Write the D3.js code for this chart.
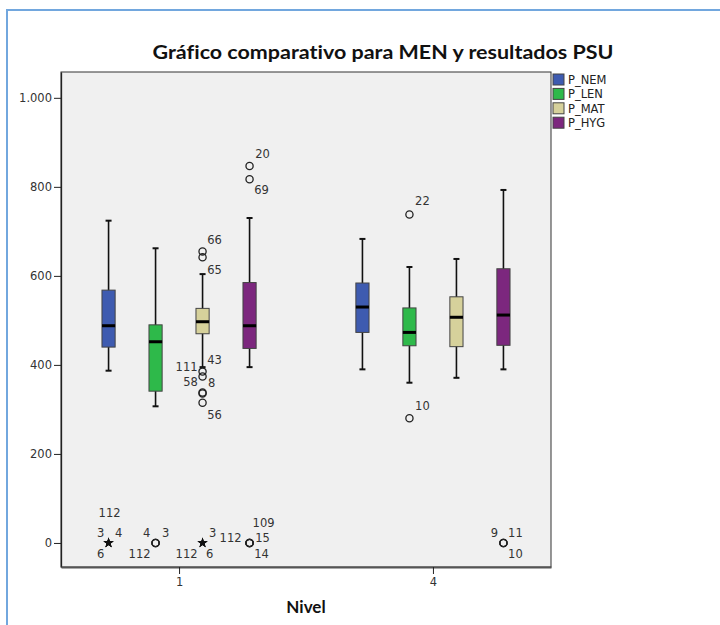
<!DOCTYPE html>
<html>
<head>
<meta charset="utf-8">
<script src="https://cdn.jsdelivr.net/npm/d3@7"></script>
<style>
  html, body { margin: 0; padding: 0; background: #fff; }
  svg { display: block; }
  text { font-variant-ligatures: none; }
</style>
</head>
<body>
<svg id="chart" width="720" height="625"></svg>
<script>
// datos
const niveles = ['1', '4'];
const series = ['P_NEM', 'P_LEN', 'P_MAT', 'P_HYG'];
const colores = ['#3e5bb0', '#2eb94a', '#d6d19b', '#7c277e'];

// [nivel][serie]
const bigoteBajo = [[387, 307, 395, 395], [390, 360, 371, 390]];
const cuartil1 = [[440, 341, 470, 437], [473, 443, 441, 444]];
const mediana = [[488, 452, 497, 488], [530, 473, 507, 512]];
const cuartil3 = [[568, 490, 527, 585], [584, 528, 553, 616]];
const bigoteAlto = [[724, 662, 604, 730], [683, 620, 638, 793]];

// valores atipicos (o) y extremos (*)
const atipCaso = [112, 3, 4, 6, 4, 3, 112, 3, 112, 6, 66, 65, 111, 43, 58, 8, 56, 20, 69, 109, 15, 112, 14, 22, 10, 9, 11, 10];
const atipNivel = ['1', '1', '1', '1', '1', '1', '1', '1', '1', '1', '1', '1', '1', '1', '1', '1', '1', '1', '1', '1', '1', '1', '1', '4', '4', '4', '4', '4'];
const atipSerie = ['P_NEM', 'P_NEM', 'P_NEM', 'P_NEM', 'P_LEN', 'P_LEN', 'P_LEN', 'P_MAT', 'P_MAT', 'P_MAT', 'P_MAT', 'P_MAT', 'P_MAT', 'P_MAT', 'P_MAT', 'P_MAT', 'P_MAT', 'P_HYG', 'P_HYG', 'P_HYG', 'P_HYG', 'P_HYG', 'P_HYG', 'P_LEN', 'P_LEN', 'P_HYG', 'P_HYG', 'P_HYG'];
const atipValor = [0, 0, 0, 0, 0, 0, 0, 0, 0, 0, 655, 642, 385, 374, 338, 336, 315, 847, 817, 0, 0, 0, 0, 738, 280, 0, 0, 0];
const atipTipo = ['*', '*', '*', '*', 'o', 'o', 'o', '*', '*', '*', 'o', 'o', 'o', 'o', 'o', 'o', 'o', 'o', 'o', 'o', 'o', 'o', 'o', 'o', 'o', 'o', 'o', 'o'];

const yTicks = [0, 200, 400, 600, 800, 1000];

// posicion de las etiquetas respecto del punto (solo layout)
const etiquetaDesp = [
  [1, -30], [-8, -10], [10, -10], [-8, 11],
  [-9, -10], [10, -10], [-16, 11],
  [10, -10], [-16, 11], [7, 11],
  [12, -11], [12, 13], [-16, -5], [12, -16], [-12, -11], [9, -10], [12, 12],
  [13, -12], [12, 11], [14, -20], [13, -5], [-19, -5], [12, 11],
  [13, -13], [13, -12], [-9, -10], [12, -10], [12, 11]
];

const svg = d3.select('#chart');

// marco azul exterior
svg.append('rect')
  .attr('x', 7).attr('y', 10).attr('width', 800).attr('height', 700)
  .attr('fill', 'none').attr('stroke', '#72a7de').attr('stroke-width', 2);

const margin = { top: 72, left: 61, right: 551, bottom: 567 };

const y = d3.scaleLinear().domain([-54, 1058]).range([margin.bottom, margin.top]);
const x = d3.scalePoint().domain(niveles).range([margin.left, margin.right]).padding(0.465);
const xs = d3.scaleBand().domain(series).range([-94, 94]).paddingInner(0.72).paddingOuter(0.36);
const color = d3.scaleOrdinal().domain(series).range(colores);

const fmt = d3.formatLocale({ decimal: ',', thousands: '.', grouping: [3], currency: ['', ''] }).format(',d');

// fondo del area
svg.append('rect')
  .attr('x', margin.left).attr('y', margin.top)
  .attr('width', margin.right - margin.left).attr('height', margin.bottom - margin.top)
  .attr('fill', '#f0f0f0').attr('stroke', '#333').attr('stroke-width', 1);

// titulo
svg.append('text')
  .attr('x', 383).attr('y', 59)
  .attr('text-anchor', 'middle')
  .attr('textLength', 461).attr('lengthAdjust', 'spacingAndGlyphs')
  .style('font-family', 'Lato, "Open Sans", sans-serif')
  .style('font-weight', 'bold').style('font-size', '19.5px')
  .attr('fill', '#111')
  .text('Gráfico comparativo para MEN y resultados PSU');

// ejes
const yAxis = d3.axisLeft(y).tickValues(yTicks).tickFormat(fmt).tickSize(7).tickSizeOuter(0);
const gy = svg.append('g').attr('transform', `translate(${margin.left},0)`).call(yAxis);
gy.select('.domain').attr('stroke', '#222').attr('stroke-width', 1.3);
gy.selectAll('.tick line').attr('stroke', '#222');
gy.selectAll('text')
  .style('font-family', '"DejaVu Sans", sans-serif').style('font-size', '11.5px')
  .attr('fill', '#333').attr('x', -9);

const xAxis = d3.axisBottom(x).tickSize(7).tickSizeOuter(0);
const gx = svg.append('g').attr('transform', `translate(0,${margin.bottom})`).call(xAxis);
gx.select('.domain').attr('stroke', '#555').attr('stroke-width', 2);
gx.selectAll('.tick line').attr('stroke', '#222');
gx.selectAll('text')
  .style('font-family', '"DejaVu Sans", sans-serif').style('font-size', '11.5px')
  .attr('fill', '#333').attr('y', 11);

svg.append('text')
  .attr('x', 306).attr('y', 613)
  .attr('text-anchor', 'middle')
  .style('font-family', 'Lato, "Open Sans", sans-serif')
  .style('font-weight', 'bold').style('font-size', '17px')
  .attr('fill', '#111')
  .text('Nivel');

// cajas
const cajas = [];
niveles.forEach((n, i) => {
  series.forEach((s, j) => {
    cajas.push({
      nivel: n, serie: s,
      lo: bigoteBajo[i][j], q1: cuartil1[i][j], med: mediana[i][j],
      q3: cuartil3[i][j], hi: bigoteAlto[i][j]
    });
  });
});

const bw = xs.bandwidth();
const cx = d => x(d.nivel) + xs(d.serie) + bw / 2;

const g = svg.append('g');
const caja = g.selectAll('g.caja').data(cajas).enter().append('g').attr('class', 'caja');

caja.append('line')
  .attr('x1', cx).attr('x2', cx)
  .attr('y1', d => y(d.hi)).attr('y2', d => y(d.lo))
  .attr('stroke', '#111').attr('stroke-width', 1.6);
caja.append('line')
  .attr('x1', d => cx(d) - 3).attr('x2', d => cx(d) + 3)
  .attr('y1', d => y(d.hi)).attr('y2', d => y(d.hi))
  .attr('stroke', '#111').attr('stroke-width', 2);
caja.append('line')
  .attr('x1', d => cx(d) - 3).attr('x2', d => cx(d) + 3)
  .attr('y1', d => y(d.lo)).attr('y2', d => y(d.lo))
  .attr('stroke', '#111').attr('stroke-width', 2);
caja.append('rect')
  .attr('x', d => cx(d) - bw / 2).attr('width', bw)
  .attr('y', d => y(d.q3)).attr('height', d => y(d.q1) - y(d.q3))
  .attr('fill', d => color(d.serie))
  .attr('stroke', '#444').attr('stroke-width', 1);
caja.append('line')
  .attr('x1', d => cx(d) - bw / 2).attr('x2', d => cx(d) + bw / 2)
  .attr('y1', d => y(d.med)).attr('y2', d => y(d.med))
  .attr('stroke', '#000').attr('stroke-width', 3);

// atipicos
const atip = atipCaso.map((c, k) => ({
  caso: c, nivel: atipNivel[k], serie: atipSerie[k], valor: atipValor[k], tipo: atipTipo[k],
  dx: etiquetaDesp[k][0], dy: etiquetaDesp[k][1]
}));

g.selectAll('circle.atip').data(atip.filter(d => d.tipo === 'o')).enter().append('circle')
  .attr('class', 'atip')
  .attr('cx', cx).attr('cy', d => y(d.valor)).attr('r', 3.6)
  .attr('fill', 'none').attr('stroke', '#222').attr('stroke-width', 1.3);

const star = d3.symbol().type(d3.symbolStar).size(32);
g.selectAll('path.ext').data(atip.filter(d => d.tipo === '*')).enter().append('path')
  .attr('class', 'ext')
  .attr('d', star)
  .attr('transform', d => `translate(${cx(d)},${y(d.valor)})`)
  .attr('fill', '#111');

g.selectAll('text.lab').data(atip).enter().append('text')
  .attr('class', 'lab')
  .attr('x', d => cx(d) + d.dx).attr('y', d => y(d.valor) + d.dy)
  .attr('text-anchor', 'middle').attr('dominant-baseline', 'central')
  .style('font-family', '"DejaVu Sans", sans-serif').style('font-size', '11.5px')
  .attr('fill', '#333')
  .text(d => d.caso);

// leyenda
const ley = svg.append('g').attr('transform', 'translate(553,74)');
const item = ley.selectAll('g').data(series).enter().append('g')
  .attr('transform', (d, i) => `translate(0,${i * 14.4})`);
item.append('rect')
  .attr('width', 11).attr('height', 11)
  .attr('fill', d => color(d)).attr('stroke', '#444').attr('stroke-width', 1);
item.append('text')
  .attr('x', 15).attr('y', 6).attr('dominant-baseline', 'central')
  .style('font-family', '"DejaVu Sans", sans-serif').style('font-size', '11.5px')
  .attr('fill', '#222')
  .text(d => d);
</script>
</body>
</html>
